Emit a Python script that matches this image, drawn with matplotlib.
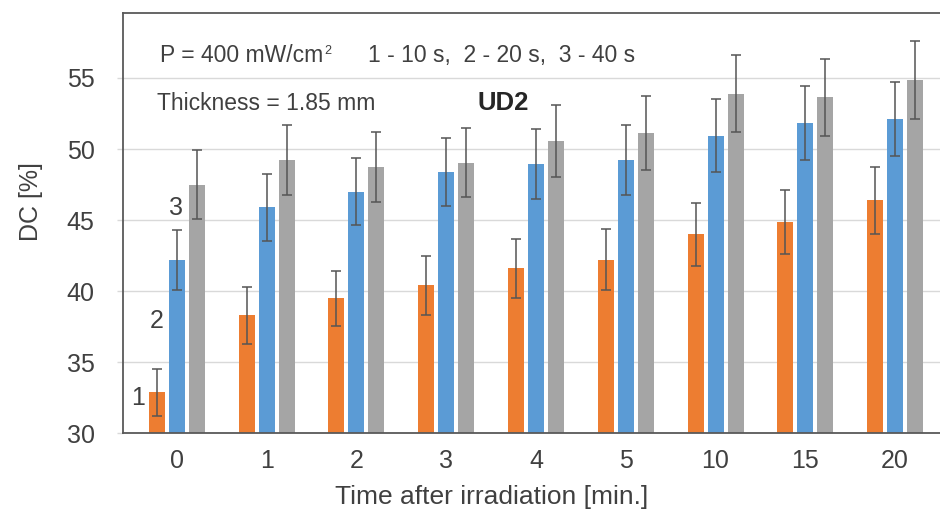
import matplotlib
matplotlib.use("Agg")
import matplotlib.pyplot as plt
import numpy as np

plt.rcParams['font.family'] = ['Liberation Sans', 'DejaVu Sans']

categories = ['0', '1', '2', '3', '4', '5', '10', '15', '20']
dc_10s = [32.9, 38.3, 39.5, 40.4, 41.6, 42.2, 44.0, 44.9, 46.4]
err_10s = [1.65, 2.0, 1.95, 2.05, 2.05, 2.15, 2.2, 2.25, 2.35]
dc_20s = [42.2, 45.9, 47.0, 48.4, 48.95, 49.25, 50.95, 51.85, 52.1]
err_20s = [2.1, 2.35, 2.35, 2.4, 2.45, 2.45, 2.55, 2.6, 2.6]
dc_40s = [47.5, 49.25, 48.75, 49.05, 50.55, 51.15, 53.9, 53.65, 54.85]
err_40s = [2.4, 2.45, 2.45, 2.45, 2.55, 2.6, 2.7, 2.7, 2.75]
yticks = [30, 35, 40, 45, 50, 55]

colors = ['#ED7D31', '#5B9BD5', '#A5A5A5']
series = [(dc_10s, err_10s), (dc_20s, err_20s), (dc_40s, err_40s)]

fig = plt.figure(figsize=(9.4, 5.16), dpi=100)
ax = fig.add_axes([123/940, (516-433.3)/516, 817/940, 420/516])

x = np.arange(len(categories))
offsets = [-0.223, 0.0, 0.223]
width = 0.178
for (vals, errs), off, c in zip(series, offsets, colors):
    ax.bar(x + off, vals, width, color=c, zorder=2)
    ax.errorbar(x + off, vals, yerr=errs, fmt='none', ecolor='#555555',
                elinewidth=1.1, capsize=3.6, capthick=1.1, zorder=3)

ax.set_xlim(-0.6, 8.5)
ax.set_ylim(30, 59.55)
ax.set_yticks(yticks)
ax.set_xticks(x)
ax.set_xticklabels(categories)
ax.yaxis.grid(True, color='#d9d9d9', linewidth=1.0, zorder=0)
ax.set_axisbelow(True)
ax.tick_params(axis='y', length=4.5, width=1.0, color='#d9d9d9', labelsize=18,
               labelcolor='#404040', pad=16)
ax.tick_params(axis='x', length=0, labelsize=18, labelcolor='#404040', pad=11)
for s in ['left', 'bottom', 'top']:
    ax.spines[s].set_color('#595959')
    ax.spines[s].set_linewidth(1.3)
ax.spines['right'].set_visible(False)

ax.set_ylabel('DC [%]', fontsize=18, color='#404040')
ax.yaxis.set_label_coords(-0.1126, 0.551)
ax.set_xlabel('Time after irradiation [min.]', fontsize=19, color='#404040')
ax.xaxis.set_label_coords(0.4517, -0.1517)
ax.xaxis.label.set_va('center')
ax.yaxis.label.set_va('center')

# series numbers next to the first group
ax.text(-0.435, 32.5, '1', fontsize=18, color='#404040', ha='center', va='center')
ax.text(-0.223, 37.9, '2', fontsize=18, color='#404040', ha='center', va='center')
ax.text(-0.01, 45.85, '3', fontsize=18, color='#404040', ha='center', va='center')

tp = ax.text(0.0453, 0.9007, 'P = 400 mW/cm', transform=ax.transAxes,
             fontsize=16.5, color='#404040', ha='left', va='center')
ax.annotate('2', xy=(1.0, 0.92), xycoords=tp, xytext=(1, 0), textcoords='offset points',
            fontsize=9, color='#404040', ha='left', va='top')
ax.text(0.2999, 0.9007, '1 - 10 s,  2 - 20 s,  3 - 40 s', transform=ax.transAxes,
        fontsize=16.5, color='#404040', ha='left', va='center')
ax.text(0.0416, 0.7864, 'Thickness = 1.85 mm', transform=ax.transAxes, fontsize=16.5,
        color='#404040', ha='left', va='center')
ax.text(0.4333, 0.7864, 'UD2', transform=ax.transAxes, fontsize=18.5, fontweight='bold',
        color='#262626', ha='left', va='center')

fig.savefig('out.png', dpi=100)
